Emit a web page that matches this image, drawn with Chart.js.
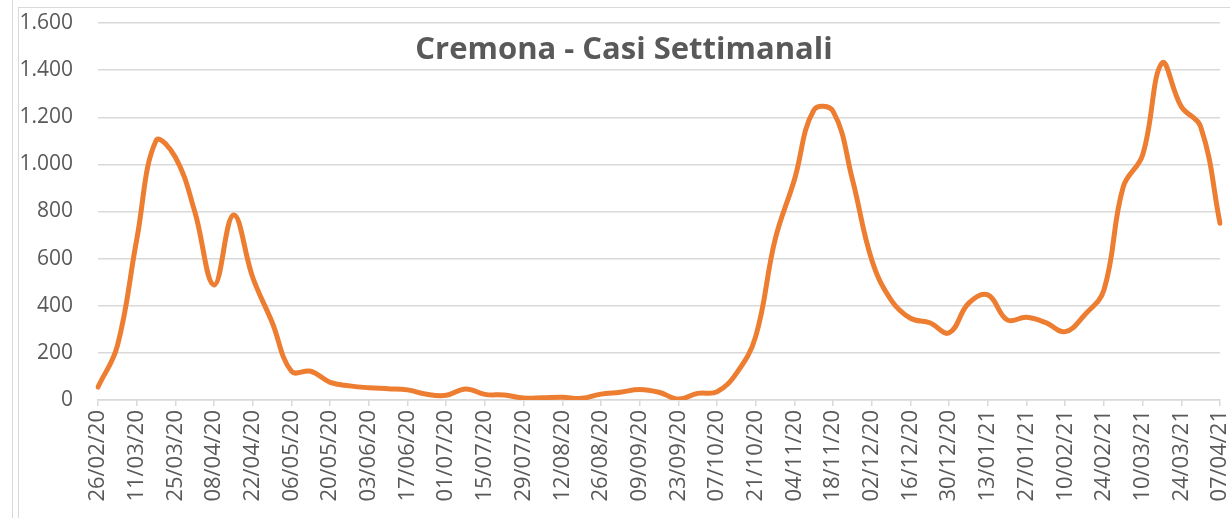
<!DOCTYPE html>
<html>
<head>
<meta charset="utf-8">
<title>Cremona - Casi Settimanali</title>
<script src="https://cdn.jsdelivr.net/npm/chart.js@4.4.1/dist/chart.umd.min.js"></script>
<style>
    html, body { margin: 0; padding: 0; background: #fff; }
    .wrap { position: relative; width: 1230px; height: 518px; overflow: hidden; }
    .edge { position: absolute; left: 12px; top: 0; width: 1px; height: 518px; background: #d9d9d9; }
    .frame { position: absolute; left: 18px; top: 7px; width: 1230px; height: 520px; border-left: 1px solid #d9d9d9; border-top: 1px solid #d9d9d9; }
    canvas { position: absolute; left: 0; top: 0; }
</style>
</head>
<body>
<div class="wrap">
    <div class="edge"></div>
    <div class="frame"></div>
    <canvas id="chart" width="1230" height="518"></canvas>
</div>
<script>
const weeks = [
    '26/02/20', '04/03/20', '11/03/20', '18/03/20', '25/03/20', '01/04/20', '08/04/20', '15/04/20',
    '22/04/20', '29/04/20', '06/05/20', '13/05/20', '20/05/20', '27/05/20', '03/06/20', '10/06/20',
    '17/06/20', '24/06/20', '01/07/20', '08/07/20', '15/07/20', '22/07/20', '29/07/20', '05/08/20',
    '12/08/20', '19/08/20', '26/08/20', '02/09/20', '09/09/20', '16/09/20', '23/09/20', '30/09/20',
    '07/10/20', '14/10/20', '21/10/20', '28/10/20', '04/11/20', '11/11/20', '18/11/20', '25/11/20',
    '02/12/20', '09/12/20', '16/12/20', '23/12/20', '30/12/20', '06/01/21', '13/01/21', '20/01/21',
    '27/01/21', '03/02/21', '10/02/21', '17/02/21', '24/02/21', '03/03/21', '10/03/21', '17/03/21',
    '24/03/21', '31/03/21', '07/04/21'
];

const weeklyCases = [
    55, 230, 680, 1100, 1030, 800, 488, 785,
    520, 330, 122, 122, 75, 60, 52, 48,
    43, 24, 20, 47, 24, 21, 8, 10,
    12, 7, 25, 33, 45, 33, 4, 28,
    35, 113, 270, 680, 935, 1230, 1225, 935,
    594, 424, 347, 328, 285, 410, 446, 340,
    351, 328, 290, 361, 467, 905, 1040, 1430,
    1245, 1160, 750
];

const yTicks = [0, 200, 400, 600, 800, 1000, 1200, 1400, 1600];

const chartTitle = 'Cremona - Casi Settimanali';
const textColor = '#595959';
const gridColor = '#d9d9d9';

const titlePlugin = {
    id: 'insideTitle',
    afterDraw(chart) {
        const c = chart.ctx;
        c.save();
        c.font = 'bold 31px "Open Sans"';
        c.fillStyle = textColor;
        c.textAlign = 'center';
        c.textBaseline = 'middle';
        c.fillText(chartTitle, 624, 50);
        c.restore();
    }
};

function itNumber(v) {
    return String(v).replace(/\B(?=(\d{3})+(?!\d))/g, '.');
}

const ctx = document.getElementById('chart').getContext('2d');

new Chart(ctx, {
    type: 'line',
    data: {
        labels: weeks,
        datasets: [{
            data: weeklyCases,
            borderColor: '#ed7d31',
            borderWidth: 5,
            pointRadius: 0,
            tension: 0.4,
            fill: false,
            borderCapStyle: 'round',
            borderJoinStyle: 'round'
        }]
    },
    options: {
        responsive: false,
        animation: false,
        layout: { padding: { top: 23, right: 10, bottom: 0, left: 0 } },
        plugins: {
            legend: { display: false },
            tooltip: { enabled: false },
            title: { display: false }
        },
        scales: {
            x: {
                offset: false,
                grid: { drawOnChartArea: false, drawTicks: true, tickLength: 6, color: gridColor, lineWidth: 1.5 },
                border: { color: gridColor, width: 1.5 },
                ticks: {
                    autoSkip: false,
                    maxRotation: 90,
                    minRotation: 90,
                    padding: 4,
                    color: textColor,
                    font: { family: '"Open Sans"', size: 22 },
                    callback: (val, i) => (i % 2 === 0 ? weeks[i] : null)
                },
                afterFit: scale => {
                    scale.height = 118;
                    scale.paddingLeft = 0;
                    scale.paddingRight = 0;
                }
            },
            y: {
                min: yTicks[0],
                max: yTicks[yTicks.length - 1],
                afterBuildTicks: scale => { scale.ticks = yTicks.map(v => ({ value: v })); },
                grid: { drawTicks: false, color: gridColor, lineWidth: 1.5 },
                border: { display: false },
                ticks: {
                    padding: 25,
                    color: textColor,
                    font: { family: '"Open Sans"', size: 21 },
                    callback: v => itNumber(v)
                },
                afterFit: scale => {
                    scale.width = 98;
                    scale.paddingTop = 0;
                    scale.paddingBottom = 0;
                }
            }
        }
    },
    plugins: [titlePlugin]
});
</script>
</body>
</html>
